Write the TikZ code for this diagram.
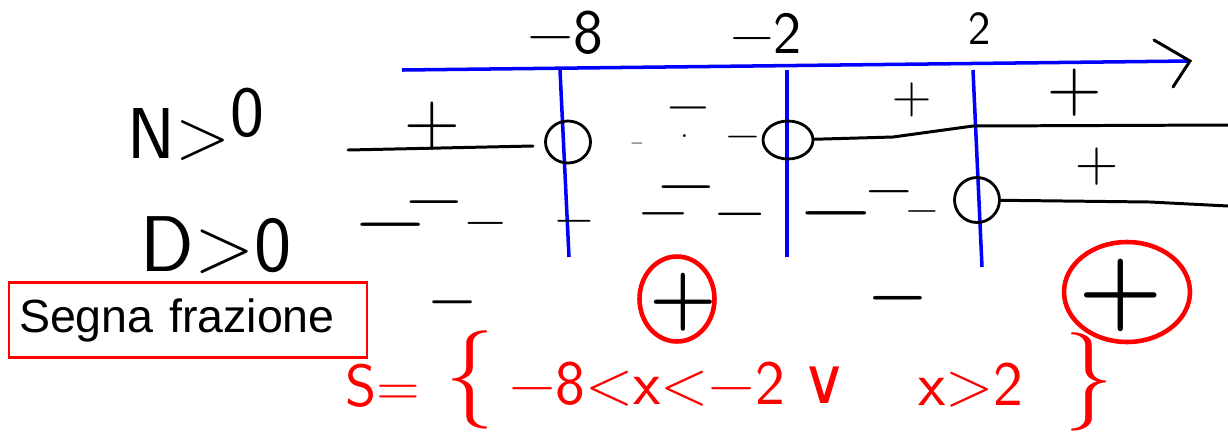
\documentclass[tikz,border=0pt]{standalone}
\usepackage{fontspec}
\usepackage{graphicx}
\usepackage{tikz}
\usetikzlibrary{shapes.geometric}
\newfontfamily\boxfont{Liberation Sans}
\newfontfamily\orfont{DejaVu Sans}

\begin{document}
\begin{tikzpicture}[x=0.02cm,y=-0.02cm]
    \tikzset{sg/.style = {inner sep=0pt, font=\fontsize{#1}{#1}\selectfont}}
    \tikzset{bsg/.style = {inner sep=0pt, font=\bfseries\fontsize{#1}{#1}\selectfont}}
    \tikzset{lab/.style = {inner sep=0pt, font=\sffamily\fontsize{#1}{#1}\selectfont}}
    \tikzset{sol/.style = {red, inner sep=0pt, font=\sffamily\fontsize{#1}{#1}\selectfont}}
    \tikzset{hole/.style = {shape=ellipse, draw, line width=1.6pt, inner sep=0pt}}
    \tikzset{ring/.style = {shape=ellipse, draw=red, line width=2.6pt, inner sep=0pt}}
    \tikzset{edge/.style = {line width=1.7pt, line cap=round}}
    \tikzset{bline/.style = {blue, line width=2pt}}

    \useasboundingbox (0,0) rectangle (1228,434);

    % axis and roots
    \coordinate (ax0) at (402,70);
    \coordinate (ax1) at (1190,61);
    \coordinate (tipa) at (1154,40);
    \coordinate (tipb) at (1173,87);
    \draw[bline] (ax0) -- (ax1);
    \draw[edge] (tipa) -- (ax1) -- (tipb);

    \coordinate (v1a) at (560,70);
    \coordinate (v1b) at (569,257);
    \coordinate (v2a) at (787,70);
    \coordinate (v2b) at (787,257);
    \coordinate (v3a) at (973,70);
    \coordinate (v3b) at (982,267);
    \draw[bline] (v1a) -- (v1b);
    \draw[bline] (v2a) -- (v2b);
    \draw[bline] (v3a) -- (v3b);

    \node[lab=36] (r1) at (565,33) {−8};
    \node[lab=34] (r2) at (766,33) {−2};
    \node[lab=27] (r3) at (980,29) {2};

    % rows
    \node[lab=41] (num) at (196,124) {N>\raisebox{0.3em}{0}};
    \node[lab=45] (den) at (216,245) {D>0};

    \node[hole, minimum width=0.9cm, minimum height=0.84cm] (h1) at (568,142) {};
    \node[hole, minimum width=1cm, minimum height=0.76cm] (h2) at (788,140) {};
    \node[hole, minimum width=0.9cm, minimum height=0.9cm] (h3) at (977,200) {};

    \coordinate (nl) at (348,150);
    \coordinate (nr) at (533,146);
    \coordinate (nk) at (893,137);
    \coordinate (nx) at (973,126);
    \coordinate (ne) at (1228,125);
    \coordinate (dk) at (1150,202);
    \coordinate (de) at (1228,206);
    \draw[edge] (nl) -- (nr);
    \draw[edge] (h2) -- (nk) -- (nx) -- (ne);
    \draw[edge] (h3) -- (dk) -- (de);

    \node[sg=44] (n1) at (432,126) {+};
    \node[sg=9] (n2) at (637,145) {−};
    \node[sg=20] (n3) at (685,136) {.};
    \node[sg=33] (n4) at (688,115) {−};
    \node[sg=26] (n5) at (743,142) {−};
    \node[sg=31] (n6) at (912,100) {+};
    \node[sg=43] (n7) at (1075,93) {+};

    \node[sg=54] (d1) at (391,236) {−};
    \node[sg=44] (d2) at (434,211) {−};
    \node[sg=32] (d3) at (486,230) {−};
    \node[sg=30] (d4) at (574,227) {−};
    \node[sg=38] (d5) at (664,222) {−};
    \node[sg=44] (d6) at (686,196) {−};
    \node[sg=39] (d7) at (740,222) {−};
    \node[sg=55] (d8) at (836,225) {−};
    \node[sg=36] (d9) at (889,199) {−};
    \node[sg=25] (d10) at (922,217) {−};
    \node[sg=34] (d11) at (1097,167) {+};

    % sign of the fraction
    \node[draw=red, line width=1.2pt, anchor=west, minimum width=7.16cm, minimum height=1.5cm,
      inner xsep=0.2cm, text width=6.76cm, align=left,
      font=\boxfont\fontsize{26.5}{30}\selectfont] (seg) at (8,320) {Segna frazione};

    \node[bsg=30] (f1) at (453,308) {−};
    \node[ring, minimum width=1.5cm, minimum height=1.7cm] (c1) at (677,299) {};
    \node[bsg=44] (f2) at (683,302) {+};
    \node[bsg=37] (f3) at (898,305) {−};
    \node[ring, minimum width=2.52cm, minimum height=2cm] (c2) at (1127,292) {};
    \node[bsg=55] (f4) at (1121,295) {+};

    % solution
    \node[sol=34] (s0) at (383,386) {S=};
    \node[sol=56] (s1) at (470,380) {\{};
    \node[sol=36] (s2) at (647,384) {−8<x<−2};
    \node[red, inner sep=0pt, font=\orfont\fontsize{36}{36}\selectfont] (s3) at (825,385) {∨};
    \node[sol=36] (s4) at (971,385) {x>2};
    \node[sol=56] (s5) at (1089,382) {\}};
\end{tikzpicture}
\end{document}
